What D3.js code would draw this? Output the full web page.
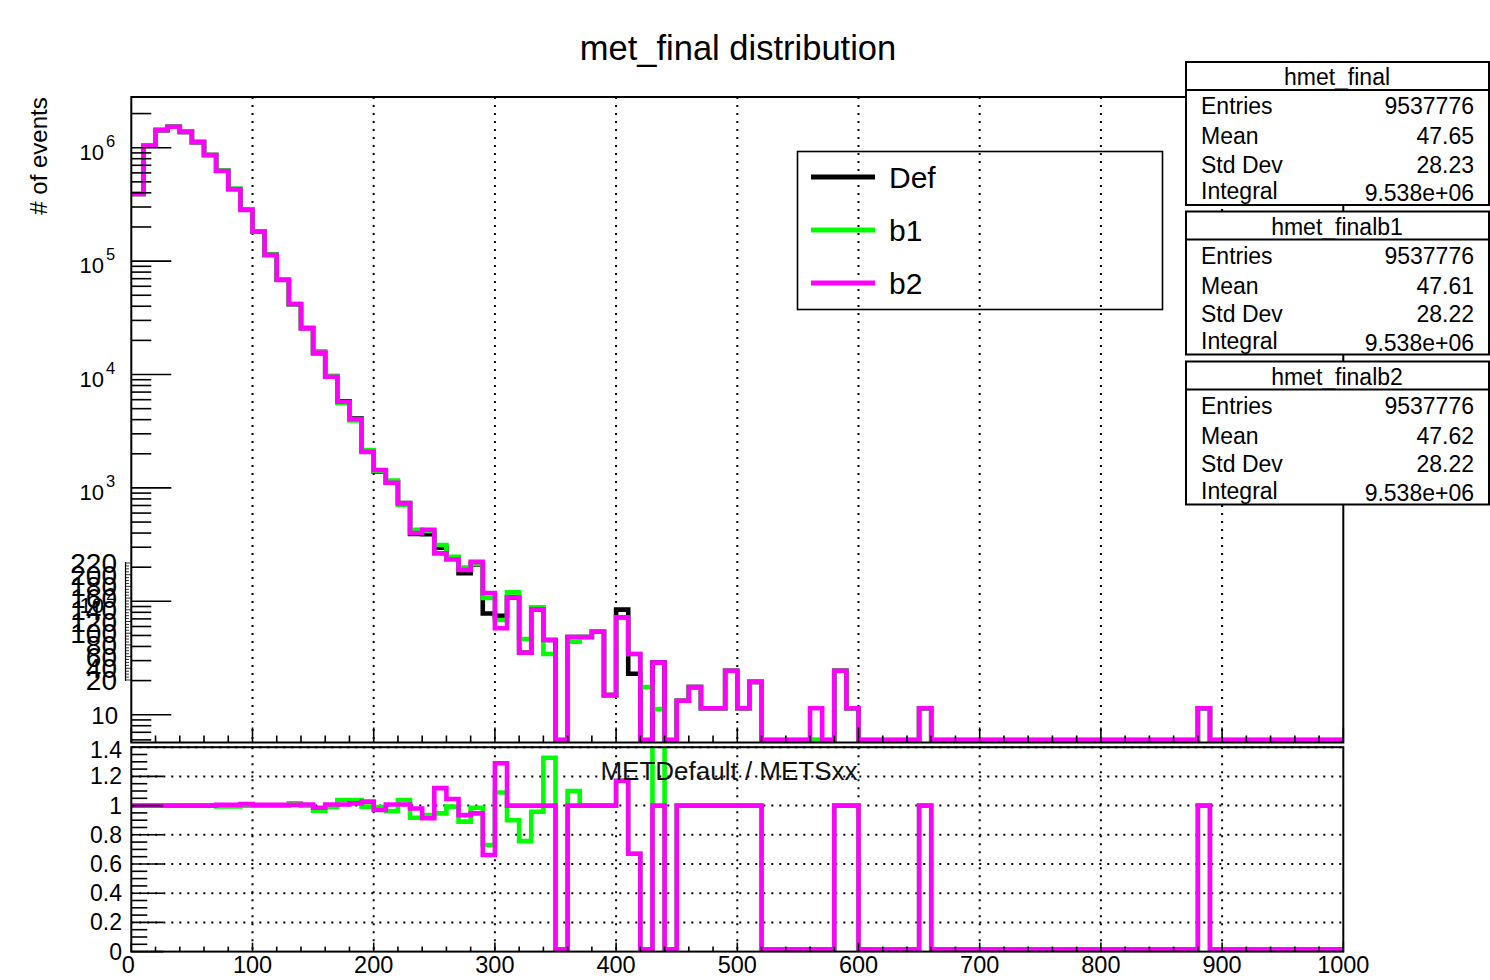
<!DOCTYPE html>
<html>
<head>
<meta charset="utf-8">
<script src="https://cdn.jsdelivr.net/npm/d3@7"></script>
<style>
  body { margin: 0; background: #fff; }
  svg { display: block; font-family: "Liberation Sans", Arial, Helvetica, sans-serif; }
</style>
</head>
<body>
<script>
(function() {
    // histogram binning: 100 bins of 10 GeV from 0 to 1000
    var binWidth = 10;
    var nBins = 100;

    // bin contents (zeros in the tail)
    var defCounts = [
        3.91e5, 1.04e6, 1.43e6, 1.53e6, 1.38e6, 1.12e6, 8.63e5, 6.27e5, 4.32e5, 2.85e5,
        1.83e5, 1.14e5, 6.84e4, 4.18e4, 2.57e4, 1.54e4, 9650, 5810, 4090, 2140,
        1400, 1120, 737, 392, 391, 297, 245, 177, 211, 78,
        74.6, 108, 35.2, 84.9, 45.6, 0, 48.4, 48.4, 53.9, 14.9,
        84.5, 23.0, 0, 28.8, 0, 13.3, 17.5, 11.4, 11.4, 24.4,
        11.4, 19.5, 0, 0, 0, 0, 0, 0, 24.4, 11.4,
        0, 0, 0, 0, 0, 11.4, 0, 0, 0, 0,
        0, 0, 0, 0, 0, 0, 0, 0, 0, 0,
        0, 0, 0, 0, 0, 0, 0, 0, 11.4, 0,
        0, 0, 0, 0, 0, 0, 0, 0, 0, 0
    ];
    var b1Counts = [
        3.91e5, 1.04e6, 1.43e6, 1.53e6, 1.38e6, 1.12e6, 8.63e5, 6.30e5, 4.34e5, 2.85e5,
        1.83e5, 1.14e5, 6.84e4, 4.12e4, 2.57e4, 1.60e4, 9750, 5600, 3940, 2160,
        1410, 1160, 710, 427, 418, 314, 247, 199, 214, 107,
        68.4, 120, 46.5, 88.6, 34.3, 0, 44.0, 48.4, 53.9, 14.9,
        72.2, 34.3, 17.5, 11.2, 0, 13.3, 17.5, 11.4, 11.4, 24.4,
        11.4, 19.5, 0, 0, 0, 0, 0, 0, 24.4, 11.4,
        0, 0, 0, 0, 0, 11.4, 0, 0, 0, 0,
        0, 0, 0, 0, 0, 0, 0, 0, 0, 0,
        0, 0, 0, 0, 0, 0, 0, 0, 11.4, 0,
        0, 0, 0, 0, 0, 0, 0, 0, 0, 0
    ];
    var b2Counts = [
        3.91e5, 1.04e6, 1.43e6, 1.53e6, 1.38e6, 1.12e6, 8.63e5, 6.24e5, 4.30e5, 2.82e5,
        1.82e5, 1.13e5, 6.81e4, 4.16e4, 2.55e4, 1.56e4, 9570, 5760, 4030, 2080,
        1440, 1110, 731, 400, 428, 265, 234, 189, 223, 118,
        57.8, 108, 35.2, 84.9, 45.6, 0, 48.4, 48.4, 53.9, 14.9,
        72.2, 34.3, 0, 28.8, 0, 13.3, 17.5, 11.4, 11.4, 24.4,
        11.4, 19.5, 0, 0, 0, 0, 11.4, 0, 24.4, 11.4,
        0, 0, 0, 0, 0, 11.4, 0, 0, 0, 0,
        0, 0, 0, 0, 0, 0, 0, 0, 0, 0,
        0, 0, 0, 0, 0, 0, 0, 0, 11.4, 0,
        0, 0, 0, 0, 0, 0, 0, 0, 0, 0
    ];

    // ratio panel, Def / b1 and Def / b2
    var ratioB1 = [
        1, 1, 1, 1, 1, 1, 1, 0.995, 0.995, 1,
        1, 1, 1, 1.015, 1, 0.965, 0.99, 1.038, 1.038, 0.993,
        0.99, 0.962, 1.038, 0.917, 0.935, 0.947, 0.993, 0.89, 0.985, 0.73,
        1.09, 0.9, 0.757, 0.958, 1.328, 0, 1.1, 1, 1, 1,
        1.17, 0.67, 0, 2.57, 0, 1, 1, 1, 1, 1,
        1, 1, 0, 0, 0, 0, 0, 0, 1, 1,
        0, 0, 0, 0, 0, 1, 0, 0, 0, 0,
        0, 0, 0, 0, 0, 0, 0, 0, 0, 0,
        0, 0, 0, 0, 0, 0, 0, 0, 1, 0,
        0, 0, 0, 0, 0, 0, 0, 0, 0, 0
    ];
    var ratioB2 = [
        1, 1, 1, 1, 1, 1, 1, 1.005, 1.005, 1.01,
        1.005, 1.005, 1.005, 1.005, 1.008, 0.985, 1.008, 1.008, 1.015, 1.027,
        0.97, 1.008, 1.008, 0.98, 0.913, 1.12, 1.045, 0.935, 0.947, 0.662,
        1.29, 1, 1, 1, 1, 0, 1, 1, 1, 1,
        1.17, 0.67, 0, 1, 0, 1, 1, 1, 1, 1,
        1, 1, 0, 0, 0, 0, 0, 0, 1, 1,
        0, 0, 0, 0, 0, 1, 0, 0, 0, 0,
        0, 0, 0, 0, 0, 0, 0, 0, 0, 0,
        0, 0, 0, 0, 0, 0, 0, 0, 1, 0,
        0, 0, 0, 0, 0, 0, 0, 0, 0, 0
    ];

    // legend + stats boxes
    var legendNames = ["Def", "b1", "b2"];
    var statTitles = ["hmet_final", "hmet_finalb1", "hmet_finalb2"];
    var statEntries = ["9537776", "9537776", "9537776"];
    var statMeans = ["47.65", "47.61", "47.62"];
    var statStdDevs = ["28.23", "28.22", "28.22"];
    var statIntegrals = ["9.538e+06", "9.538e+06", "9.538e+06"];

    // tick labels
    var xTickLabels = [0, 100, 200, 300, 400, 500, 600, 700, 800, 900, 1000];
    var ratioTickLabels = [0, 0.2, 0.4, 0.6, 0.8, 1, 1.2, 1.4];
    var logDecades = [1, 2, 3, 4, 5, 6];
    var strayLabels = [20, 40, 60, 80, 100, 120, 140, 160, 180, 200, 220];

    var colors = ["#000000", "#00ff00", "#ff00ff"];
    var edges = d3.range(nBins + 1).map(function(i) { return i * binWidth; });

    var svg = d3.select("body").append("svg")
        .attr("width", 1490)
        .attr("height", 980);

    // scales
    var x = d3.scaleLinear().domain([0, 1000]).range([131.3, 1343.3]);
    var y = d3.scaleLog().domain([5.69, 2.8e6]).range([742.5, 97]);
    var yr = d3.scaleLinear().domain([0, 1.4]).range([951.6, 747.2]);

    var defs = svg.append("defs");
    defs.append("clipPath").attr("id", "clipMain").append("rect")
        .attr("x", x(0)).attr("y", y.range()[1])
        .attr("width", x(1000) - x(0)).attr("height", y.range()[0] - y.range()[1]);
    defs.append("clipPath").attr("id", "clipRatio").append("rect")
        .attr("x", x(0)).attr("y", yr(1.4))
        .attr("width", x(1000) - x(0)).attr("height", yr(0) - yr(1.4));

    function dotted(sel) {
        return sel.attr("stroke", "#000").attr("stroke-width", 2).attr("stroke-dasharray", "2 6");
    }

    // ---- grids
    var gridX = [100, 200, 300, 400, 500, 600, 700, 800, 900];
    gridX.forEach(function(v) {
        dotted(svg.append("line")
            .attr("x1", x(v)).attr("x2", x(v))
            .attr("y1", y.range()[1]).attr("y2", y.range()[0]));
        dotted(svg.append("line")
            .attr("x1", x(v)).attr("x2", x(v))
            .attr("y1", yr(1.4)).attr("y2", yr(0)));
    });
    ratioTickLabels.slice(1).forEach(function(v) {
        dotted(svg.append("line")
            .attr("x1", x(0)).attr("x2", x(1000))
            .attr("y1", yr(v)).attr("y2", yr(v)));
    });

    // ---- histograms as step outlines
    function stepPath(vals, yfn, floor) {
        var pts = [];
        vals.forEach(function(v, i) {
            var yy = v > 0 ? Math.min(yfn(v), floor) : floor;
            pts.push([x(edges[i]), yy], [x(edges[i + 1]), yy]);
        });
        return d3.line()(pts);
    }

    var mainG = svg.append("g").attr("clip-path", "url(#clipMain)");
    [defCounts, b1Counts, b2Counts].forEach(function(vals, k) {
        mainG.append("path")
            .attr("d", stepPath(vals, y, y.range()[0] - 2.4))
            .attr("fill", "none")
            .attr("stroke", colors[k])
            .attr("stroke-width", 4.6)
            .attr("stroke-linejoin", "miter");
    });

    var ratioG = svg.append("g").attr("clip-path", "url(#clipRatio)");
    [ratioB1, ratioB2].forEach(function(vals, k) {
        ratioG.append("path")
            .attr("d", stepPath(vals, yr, yr(0) - 2.4))
            .attr("fill", "none")
            .attr("stroke", colors[k + 1])
            .attr("stroke-width", 4.6)
            .attr("stroke-linejoin", "miter");
    });

    // ---- frames
    svg.append("rect")
        .attr("x", x(0)).attr("y", y.range()[1])
        .attr("width", x(1000) - x(0)).attr("height", y.range()[0] - y.range()[1])
        .attr("fill", "none").attr("stroke", "#000").attr("stroke-width", 2);
    svg.append("rect")
        .attr("x", x(0)).attr("y", yr(1.4))
        .attr("width", x(1000) - x(0)).attr("height", yr(0) - yr(1.4))
        .attr("fill", "none").attr("stroke", "#000").attr("stroke-width", 2);

    var axes = svg.append("g").attr("stroke", "#000").attr("stroke-width", 1.6);

    // ---- main y axis (log)
    var y0 = x(0);
    var lo = y.domain()[0], hi = y.domain()[1];
    for (var e = 0; e <= 6; e++) {
        for (var m = 1; m <= 9; m++) {
            var v = m * Math.pow(10, e);
            if (v < lo || v > hi) continue;
            axes.append("line")
                .attr("x1", y0).attr("x2", y0 + (m === 1 ? 40 : 20))
                .attr("y1", y(v)).attr("y2", y(v));
        }
    }
    var labels = svg.append("g").attr("fill", "#000");
    logDecades.forEach(function(d) {
        var ty = y(Math.pow(10, d));
        if (d === 1) {
            labels.append("text")
                .attr("x", 118).attr("y", ty + 9)
                .attr("text-anchor", "end")
                .style("font-size", "24px")
                .text("10");
        } else {
            labels.append("text")
                .attr("x", 104).attr("y", ty + 12)
                .attr("text-anchor", "end")
                .style("font-size", "22px")
                .text("10");
            labels.append("text")
                .attr("x", 106).attr("y", ty - 1)
                .attr("text-anchor", "start")
                .style("font-size", "16.5px")
                .text(d);
        }
    });

    // stray overlapping labels with their tiny ruler
    var ys = d3.scaleLinear().domain([20, 220]).range([680, 563]);
    strayLabels.forEach(function(v) {
        labels.append("text")
            .attr("x", 117).attr("y", ys(v) + 10)
            .attr("text-anchor", "end")
            .style("font-size", "28px")
            .text(v);
    });
    axes.append("line")
        .attr("x1", 125.5).attr("x2", 125.5)
        .attr("y1", ys(220) - 1).attr("y2", ys(20) + 1)
        .attr("stroke-width", 1.2);
    d3.range(20, 221, 5).forEach(function(v) {
        axes.append("line")
            .attr("x1", 125.5).attr("x2", v % 20 === 0 ? 131 : 129)
            .attr("y1", ys(v)).attr("y2", ys(v))
            .attr("stroke-width", 0.8);
    });

    // ---- main x ticks (no labels)
    d3.range(0, 1001, 20).forEach(function(v) {
        var major = v % 100 === 0;
        axes.append("line")
            .attr("x1", x(v)).attr("x2", x(v))
            .attr("y1", y.range()[0]).attr("y2", y.range()[0] - (major ? 15 : 7));
    });

    // ---- ratio axes
    d3.range(0, 1.4001, 0.05).forEach(function(v) {
        var major = Math.abs(v * 5 - Math.round(v * 5)) < 1e-6;
        axes.append("line")
            .attr("x1", x(0)).attr("x2", x(0) + (major ? 32 : 16))
            .attr("y1", yr(v)).attr("y2", yr(v));
    });
    ratioTickLabels.forEach(function(v) {
        labels.append("text")
            .attr("x", 122).attr("y", (v === 1.4 ? yr(v) + 3 : yr(v)) + 8)
            .attr("text-anchor", "end")
            .style("font-size", "23px")
            .text(v);
    });
    d3.range(0, 1001, 20).forEach(function(v) {
        var major = v % 100 === 0;
        axes.append("line")
            .attr("x1", x(v)).attr("x2", x(v))
            .attr("y1", yr(0)).attr("y2", yr(0) - (major ? 9 : 5));
    });
    xTickLabels.forEach(function(v) {
        labels.append("text")
            .attr("x", v === 0 ? x(v) - 3 : x(v)).attr("y", 973)
            .attr("text-anchor", "middle")
            .style("font-size", "23.5px")
            .text(v);
    });

    labels.append("text")
        .attr("x", 729).attr("y", 780)
        .attr("text-anchor", "middle")
        .attr("fill", "#111")
        .style("font-size", "26px")
        .text("METDefault / METSxx");

    // ---- titles
    labels.append("text")
        .attr("x", 738).attr("y", 60)
        .attr("text-anchor", "middle")
        .style("font-size", "34.5px")
        .text("met_final distribution");
    labels.append("text")
        .attr("transform", "translate(47,156) rotate(-90)")
        .attr("text-anchor", "middle")
        .style("font-size", "24px")
        .text("# of events");

    // ---- legend
    var leg = svg.append("g");
    leg.append("rect")
        .attr("x", 797.5).attr("y", 151.5)
        .attr("width", 365).attr("height", 158)
        .attr("fill", "none").attr("stroke", "#000").attr("stroke-width", 1.6);
    legendNames.forEach(function(name, i) {
        var ly = 177 + i * 53;
        leg.append("line")
            .attr("x1", 811).attr("x2", 875)
            .attr("y1", ly).attr("y2", ly)
            .attr("stroke", colors[i]).attr("stroke-width", 5);
        leg.append("text")
            .attr("x", 889).attr("y", ly + 11)
            .style("font-size", "30px")
            .text(name);
    });

    // ---- stats boxes
    var boxTops = [62, 211.5, 361.5];
    statTitles.forEach(function(title, i) {
        var top = boxTops[i];
        var g = svg.append("g");
        g.append("rect")
            .attr("x", 1186).attr("y", top)
            .attr("width", 303).attr("height", 143)
            .attr("fill", "#fff").attr("stroke", "#000").attr("stroke-width", 2);
        g.append("line")
            .attr("x1", 1186).attr("x2", 1489)
            .attr("y1", top + 28).attr("y2", top + 28)
            .attr("stroke", "#000").attr("stroke-width", 2);
        g.append("text")
            .attr("x", 1337).attr("y", top + 23)
            .attr("text-anchor", "middle")
            .style("font-size", "23px")
            .text(title);
        var rows = [
            ["Entries", statEntries[i], 44, 44],
            ["Mean", statMeans[i], 74, 74],
            ["Std Dev", statStdDevs[i], 102.5, 102.5],
            ["Integral", statIntegrals[i], 129, 131]
        ];
        rows.forEach(function(r) {
            g.append("text")
                .attr("x", 1201).attr("y", top + r[2] + 8)
                .style("font-size", "23px")
                .text(r[0]);
            g.append("text")
                .attr("x", 1474).attr("y", top + r[3] + 8)
                .attr("text-anchor", "end")
                .style("font-size", "23px")
                .text(r[1]);
        });
    });
})();
</script>
</body>
</html>
